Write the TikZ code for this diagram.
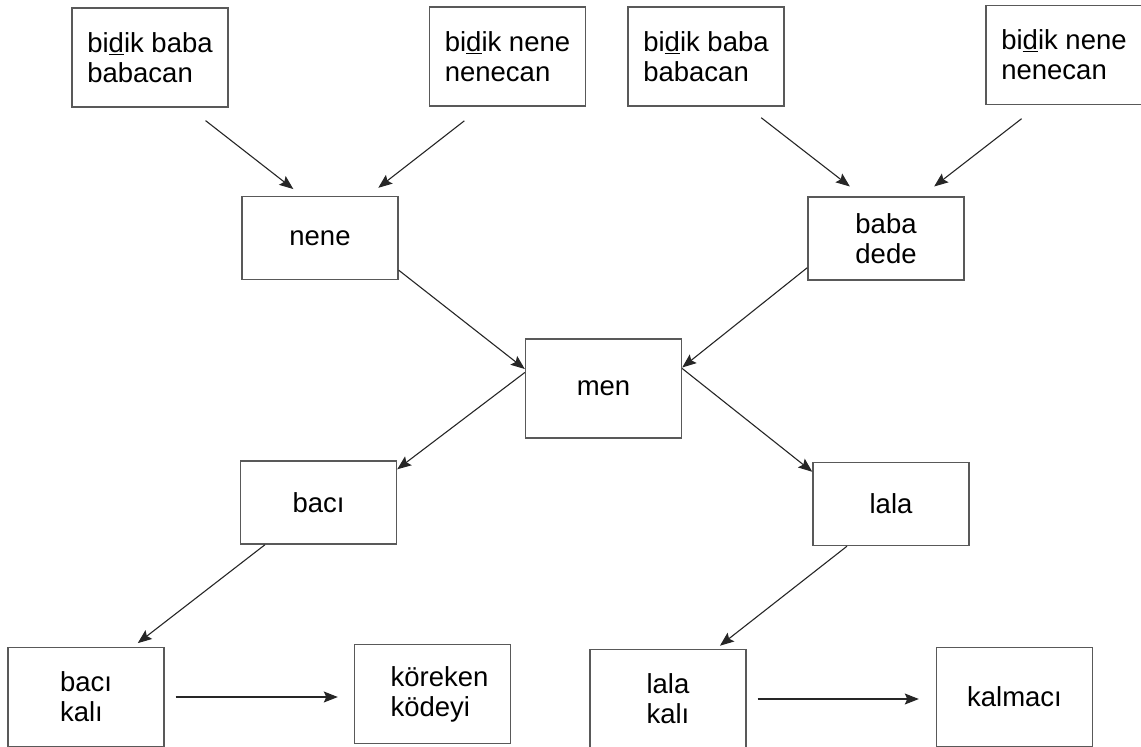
\documentclass[tikz,border=0pt]{standalone}
\usepackage{fontspec}
\setmainfont{Liberation Sans}
\usetikzlibrary{arrows.meta}

\begin{document}
\begin{tikzpicture}[x=1pt,y=-1pt,
		box/.style={draw=black!65, line width=1.4pt, minimum width=156pt, minimum height=99pt, inner sep=0pt, align=left, text=black, font=\fontsize{27.5}{30}\selectfont},
		low/.style={box, minimum height=83pt},
		arr/.style={draw=black!85, line width=1.1pt, -{Stealth[length=14pt,width=11pt,inset=2.5pt]}}]

		      		\useasboundingbox (0,0) rectangle (1141,747);

		      		\node[box] (bbL) at (150,57.5) {bi\underline{d}ik baba\\babacan};
		      		\node[box] (bnL) at (507.5,56.5) {bi\underline{d}ik nene\\nenecan};
		      		\node[box] (bbR) at (706,56.5) {bi\underline{d}ik baba\\babacan};
		      		\node[box] (bnR) at (1064,55) {bi\underline{d}ik nene\\nenecan};

		      		\node[low] (nene) at (320,238) {nene};
		      		\node[low, align=center] (dede) at (886,238.5) {baba\\dede};
		      		\node[box] (men) at (603.5,388.5) {men};
		      		\node[low] (baci) at (318.5,502.5) {bacı};
		      		\node[low] (lala) at (891,504) {lala};

		      		\node[box] (bacikali) at (86,697) {bacı\\kalı};
		      		\node[box] (koreken) at (432.5,694) {\hspace*{14pt}köreken\\\hspace*{14pt}ködeyi};
		      		\node[box] (lalakali) at (668,699) {lala\\kalı};
		      		\node[box] (kalmaci) at (1014.5,697) {kalmacı};

		      		\draw[arr, shorten <=21pt, shorten >=11pt] ([xshift=39pt]bbL.south) -- ([xshift=-18pt]nene.north);
		      		\draw[arr, shorten <=23pt, shorten >=13pt] ([xshift=-25pt]bnL.south) -- ([xshift=48pt]nene.north);
		      		\draw[arr, shorten <=18pt, shorten >=16pt] ([xshift=41pt]bbR.south) -- ([xshift=-23.5pt]dede.north);
		      		\draw[arr, shorten <=22pt, shorten >=16pt] ([xshift=-25pt]bnR.south) -- ([xshift=35.5pt]dede.north);
		      		\draw[arr] ([yshift=10pt]nene.south east) -- ([yshift=19.5pt]men.west);
		      		\draw[arr] ([yshift=13pt]dede.south west) -- ([yshift=21pt]men.east);
		      		\draw[arr] ([yshift=16pt]men.west) -- ([yshift=-9pt]baci.north east);
		      		\draw[arr] ([yshift=20pt]men.east) -- ([yshift=-10pt]lala.north west);
		      		\draw[arr, shorten >=6pt] ([xshift=-53.5pt]baci.south) -- ([xshift=47pt]bacikali.north);
		      		\draw[arr, shorten >=5pt] ([xshift=-44pt]lala.south) -- ([xshift=48pt]lalakali.north);
		      		\draw[arr, shorten <=11pt, shorten >=16pt] (bacikali.east) -- (bacikali.east -| koreken.west);
		      		\draw[arr, shorten <=11pt, shorten >=17pt] (lalakali.east) -- (lalakali.east -| kalmaci.west);

		      	\end{tikzpicture}
\end{document}
